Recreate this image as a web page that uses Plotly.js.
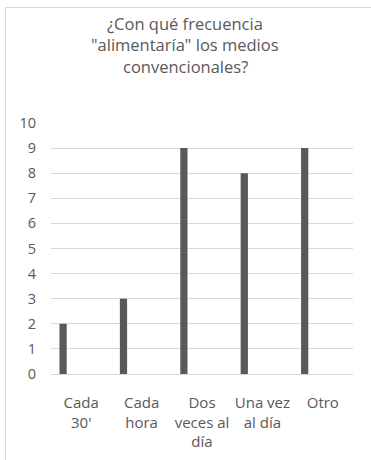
<!DOCTYPE html>
<html>
<head>
<meta charset="utf-8">
<script src="https://cdn.plot.ly/plotly-3.0.1.min.js"></script>
<style>
  html, body { margin: 0; padding: 0; background: #fff; width: 371px; height: 460px; overflow: hidden; }
  #chart { position: absolute; left: 5px; top: 7px; width: 366px; height: 453px;
           border-left: 1px solid #d9d9d9; border-top: 1px solid #d9d9d9; }
</style>
</head>
<body>
<div id="chart"></div>
<script>
// Survey answers: how often conventional media are "fed"
const categories = ["Cada 30'", "Cada hora", "Dos veces al día", "Una vez al día", "Otro"];
const tickLabels = ["Cada<br>30'", "Cada<br>hora", "Dos<br>veces al<br>día", "Una vez<br>al día", "Otro"];
const counts = [2, 3, 9, 8, 9];
const titleLines = ['¿Con qué frecuencia', '"alimentaría" los medios', 'convencionales?'];

const grey = '#595959';
const font = "'Open Sans', 'Liberation Sans', sans-serif";

const trace = {
  type: 'bar',
  x: categories,
  y: counts,
  marker: { color: grey },
  width: 0.12,
  offset: -0.36,
  hoverinfo: 'x+y'
};

// Title drawn line by line so the line spacing stays tight
const titleY = [1.3964, 1.3108, 1.2251];
const annotations = titleLines.map((t, i) => ({
  text: t,
  xref: 'paper', yref: 'paper',
  x: 0.445, y: titleY[i],
  xanchor: 'center', yanchor: 'middle',
  showarrow: false,
  font: { family: font, size: 16.5, color: grey }
}));

const layout = {
  width: 365,
  height: 452,
  margin: { l: 45, r: 18, t: 115, b: 86 },
  paper_bgcolor: '#fff',
  plot_bgcolor: '#fff',
  showlegend: false,
  annotations: annotations,
  xaxis: {
    type: 'category',
    tickvals: categories,
    ticktext: tickLabels,
    showgrid: false,
    showline: false,
    zeroline: false,
    ticks: '',
    ticklabelstandoff: 18,
    tickfont: { family: font, size: 15, color: grey }
  },
  yaxis: {
    range: [0, 10],
    dtick: 1,
    showgrid: true,
    gridcolor: '#d9d9d9',
    gridwidth: 1,
    zeroline: true,
    zerolinecolor: '#d9d9d9',
    zerolinewidth: 1,
    showline: false,
    ticks: '',
    ticklabelstandoff: 14,
    tickfont: { family: font, size: 14.5, color: grey }
  }
};

Plotly.newPlot('chart', [trace], layout, { displayModeBar: false, staticPlot: true });
</script>
</body>
</html>
